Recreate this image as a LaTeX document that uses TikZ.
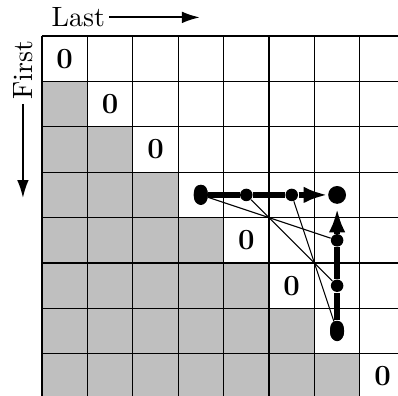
\documentclass[tikz,border=0pt]{standalone}
\usepackage{tikz}
\usetikzlibrary{arrows.meta,shapes.geometric}

\begin{document}
\begin{tikzpicture}[x=0.6cm,y=-0.6cm,>=Latex,
    zero/.style={font=\fontsize{11}{13}\selectfont\bfseries},
    label/.style={font=\fontsize{10.5}{12}\selectfont,inner sep=1.5pt},
    dot/.style={circle,fill,inner sep=0pt,minimum size=4.7pt},
    bigdot/.style={circle,fill,inner sep=0pt,minimum size=6.7pt},
    startdot/.style={ellipse,fill,inner sep=0pt,minimum width=5.3pt,
                     minimum height=7.6pt},
    route/.style={line width=2pt,-{Latex[length=9pt,width=6.2pt]}},
    axis/.style={thick,-{Latex[length=6.8pt,width=4.4pt]}},
    link/.style={thin}]
    \useasboundingbox (-0.925,-0.793) rectangle (7.841,7.907);
    % shaded cells below the diagonal
    \foreach \r in {2,...,8}
        \fill[gray!50] (0,\r-1) rectangle (\r-1,\r);
    \foreach \k in {0,...,8} {
        \draw[thin] (\k,0) -- (\k,8);
        \draw[thin] (0,\k) -- (8,\k);
    }
    \foreach \i in {1,...,8}
        \node[zero] (z\i) at (\i-0.5,\i-0.5) {0};
    % axis labels
    \node[label] (last) at (0.80,-0.41) {Last};
    \coordinate (lastend) at (3.48,-0.41);
    \draw[axis] (last) -- (lastend);
    \node[label,rotate=90] (first) at (-0.42,0.75) {First};
    \coordinate (firstend) at (-0.42,3.57);
    \draw[axis] (first) -- (firstend);
    % points on the two routes
    \node[startdot] (s) at (3.5,3.5) {};
    \node[dot] (h1) at (4.5,3.5) {};
    \node[dot] (h2) at (5.5,3.5) {};
    \node[bigdot] (t) at (6.5,3.5) {};
    \node[startdot] (u) at (6.5,6.5) {};
    \node[dot] (v2) at (6.5,5.5) {};
    \node[dot] (v1) at (6.5,4.5) {};
    \draw[link] (s) -- (v1);
    \draw[link] (h1) -- (v2);
    \draw[link] (h2) -- (u);
    \draw[route] (s) -- (h1) -- (h2) -- (t);
    \draw[route,shorten >=1.5pt] (u) -- (v2) -- (v1) -- (t);
\end{tikzpicture}
\end{document}
